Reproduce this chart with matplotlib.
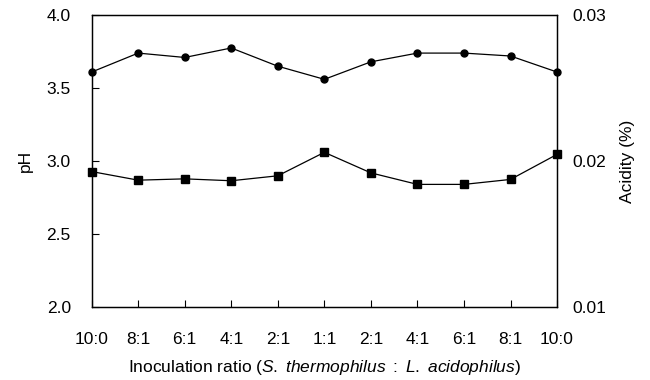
import matplotlib
matplotlib.use("Agg")
import matplotlib.pyplot as plt

plt.rcParams['font.family'] = ['Liberation Sans', 'DejaVu Sans']
plt.rcParams['mathtext.fontset'] = 'custom'
plt.rcParams['mathtext.rm'] = 'Liberation Sans'
plt.rcParams['mathtext.it'] = 'Liberation Sans:italic'

ratios = ["10:0", "8:1", "6:1", "4:1", "2:1", "1:1", "2:1", "4:1", "6:1", "8:1", "10:0"]
ph_values = [3.61, 3.74, 3.71, 3.775, 3.65, 3.56, 3.68, 3.74, 3.74, 3.72, 3.61]
acidity_values = [0.01927, 0.01868, 0.01877, 0.01864, 0.01898, 0.02059,
                  0.01918, 0.01839, 0.01839, 0.01873, 0.02045]
ph_ticks = [2.0, 2.5, 3.0, 3.5, 4.0]
acid_ticks = [0.01, 0.02, 0.03]

FS = 12.5

fig = plt.figure(figsize=(6.5, 3.8), dpi=100)
ax = fig.add_axes([0.141, 0.193, 0.716, 0.767])
x = list(range(len(ratios)))

ax.plot(x, ph_values, color='black', lw=0.9, marker='o', ms=5, clip_on=False, zorder=3)
ax.set_xlim(0, len(ratios) - 1)
ax.set_ylim(2.0, 4.0)
ax.set_yticks(ph_ticks)
ax.set_yticklabels([f"{v:.1f}" for v in ph_ticks])
ax.set_xticks(x)
ax.set_xticklabels(ratios)
ax.tick_params(axis='both', direction='in', length=5, width=0.8, labelsize=FS)
ax.tick_params(axis='x', pad=18)
ax.tick_params(axis='y', pad=15)
ax.set_ylabel('pH', fontsize=FS, labelpad=10)
ax.set_xlabel(r'Inoculation ratio ($\mathit{S.\ thermophilus\ :\ L.\ acidophilus}$)',
              fontsize=FS, labelpad=8)

ax2 = ax.twinx()
ax2.plot(x, acidity_values, color='black', lw=0.9, marker='s', ms=5.5, clip_on=False, zorder=3)
ax2.set_ylim(0.01, 0.03)
ax2.set_yticks(acid_ticks)
ax2.set_yticklabels([f"{v:.2f}" for v in acid_ticks])
ax2.tick_params(axis='y', length=0, labelsize=FS, pad=11)
ax2.set_ylabel('Acidity (%)', fontsize=FS, labelpad=10)

for a in (ax, ax2):
    for s in a.spines.values():
        s.set_linewidth(0.9)
        s.set_color('black')

fig.savefig('out.png', dpi=100)
